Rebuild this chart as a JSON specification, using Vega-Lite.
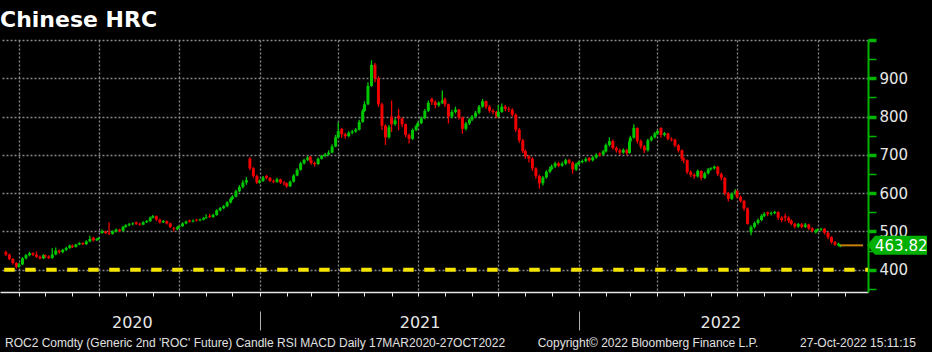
{
  "$schema": "https://vega.github.io/schema/vega-lite/v6.json",
  "width": 868,
  "height": 252,
  "autosize": {"type": "none"},
  "padding": {"top": 40, "left": 0, "right": 64, "bottom": 60},
  "background": "#000000",
  "title": {"text": "Chinese HRC", "anchor": "start", "frame": "group", "color": "#ffffff", "font": "DejaVu Sans", "fontSize": 22, "fontWeight": "bold", "offset": 6},
  "config": {"view": {"stroke": null}},
  "datasets": {
    "ohlc": [
      {"d":"2020-03-17","o":446,"h":450,"l":436,"c":440},
      {"d":"2020-03-21","o":440,"h":442,"l":425,"c":428},
      {"d":"2020-03-25","o":428,"h":431,"l":414,"c":418},
      {"d":"2020-03-29","o":418,"h":420,"l":403,"c":408},
      {"d":"2020-04-01","o":408,"h":418,"l":405,"c":414},
      {"d":"2020-04-05","o":414,"h":433,"l":412,"c":430},
      {"d":"2020-04-09","o":430,"h":441,"l":427,"c":438},
      {"d":"2020-04-13","o":438,"h":447,"l":435,"c":443},
      {"d":"2020-04-17","o":443,"h":446,"l":436,"c":439},
      {"d":"2020-04-21","o":439,"h":448,"l":431,"c":434},
      {"d":"2020-04-25","o":434,"h":437,"l":427,"c":430},
      {"d":"2020-04-29","o":430,"h":441,"l":428,"c":438},
      {"d":"2020-05-01","o":438,"h":440,"l":430,"c":435},
      {"d":"2020-05-05","o":435,"h":438,"l":428,"c":431},
      {"d":"2020-05-09","o":431,"h":456,"l":429,"c":440},
      {"d":"2020-05-13","o":440,"h":458,"l":438,"c":450},
      {"d":"2020-05-17","o":450,"h":452,"l":442,"c":446},
      {"d":"2020-05-21","o":446,"h":455,"l":443,"c":452},
      {"d":"2020-05-25","o":452,"h":460,"l":449,"c":457},
      {"d":"2020-05-29","o":457,"h":466,"l":455,"c":463},
      {"d":"2020-06-01","o":463,"h":466,"l":457,"c":460},
      {"d":"2020-06-05","o":460,"h":468,"l":458,"c":466},
      {"d":"2020-06-09","o":466,"h":472,"l":464,"c":470},
      {"d":"2020-06-13","o":470,"h":472,"l":464,"c":467},
      {"d":"2020-06-17","o":467,"h":477,"l":465,"c":474},
      {"d":"2020-06-21","o":474,"h":489,"l":472,"c":480},
      {"d":"2020-06-25","o":484,"h":486,"l":474,"c":477},
      {"d":"2020-06-29","o":477,"h":483,"l":475,"c":480},
      {"d":"2020-07-01","o":480,"h":485,"l":478,"c":483},
      {"d":"2020-07-05","o":496,"h":505,"l":494,"c":500},
      {"d":"2020-07-09","o":500,"h":502,"l":493,"c":496},
      {"d":"2020-07-13","o":496,"h":524,"l":491,"c":494},
      {"d":"2020-07-17","o":494,"h":503,"l":492,"c":500},
      {"d":"2020-07-21","o":500,"h":508,"l":498,"c":505},
      {"d":"2020-07-25","o":505,"h":507,"l":499,"c":502},
      {"d":"2020-07-29","o":502,"h":515,"l":500,"c":512},
      {"d":"2020-08-01","o":512,"h":519,"l":510,"c":516},
      {"d":"2020-08-05","o":516,"h":522,"l":514,"c":519},
      {"d":"2020-08-09","o":519,"h":524,"l":516,"c":521},
      {"d":"2020-08-13","o":524,"h":526,"l":517,"c":520},
      {"d":"2020-08-17","o":520,"h":523,"l":515,"c":518},
      {"d":"2020-08-21","o":518,"h":527,"l":516,"c":524},
      {"d":"2020-08-25","o":524,"h":530,"l":522,"c":527},
      {"d":"2020-08-29","o":527,"h":539,"l":525,"c":536},
      {"d":"2020-09-01","o":536,"h":543,"l":534,"c":540},
      {"d":"2020-09-05","o":540,"h":542,"l":528,"c":531},
      {"d":"2020-09-09","o":531,"h":533,"l":521,"c":524},
      {"d":"2020-09-13","o":524,"h":530,"l":522,"c":527},
      {"d":"2020-09-17","o":527,"h":529,"l":518,"c":521},
      {"d":"2020-09-21","o":521,"h":523,"l":509,"c":512},
      {"d":"2020-09-25","o":508,"h":512,"l":500,"c":506},
      {"d":"2020-09-29","o":506,"h":514,"l":503,"c":511},
      {"d":"2020-10-01","o":511,"h":517,"l":509,"c":514},
      {"d":"2020-10-05","o":514,"h":524,"l":512,"c":521},
      {"d":"2020-10-09","o":521,"h":529,"l":519,"c":526},
      {"d":"2020-10-13","o":529,"h":531,"l":523,"c":526},
      {"d":"2020-10-17","o":526,"h":531,"l":524,"c":528},
      {"d":"2020-10-21","o":531,"h":533,"l":526,"c":529},
      {"d":"2020-10-25","o":529,"h":534,"l":527,"c":531},
      {"d":"2020-10-29","o":531,"h":538,"l":529,"c":535},
      {"d":"2020-11-01","o":535,"h":545,"l":533,"c":537},
      {"d":"2020-11-05","o":540,"h":546,"l":535,"c":538},
      {"d":"2020-11-09","o":538,"h":546,"l":536,"c":543},
      {"d":"2020-11-13","o":543,"h":558,"l":541,"c":555},
      {"d":"2020-11-17","o":555,"h":564,"l":552,"c":561},
      {"d":"2020-11-21","o":561,"h":569,"l":558,"c":566},
      {"d":"2020-11-25","o":566,"h":579,"l":563,"c":576},
      {"d":"2020-11-29","o":576,"h":589,"l":573,"c":585},
      {"d":"2020-12-01","o":585,"h":595,"l":582,"c":591},
      {"d":"2020-12-05","o":591,"h":609,"l":589,"c":605},
      {"d":"2020-12-09","o":605,"h":621,"l":602,"c":616},
      {"d":"2020-12-13","o":616,"h":634,"l":612,"c":628},
      {"d":"2020-12-17","o":628,"h":642,"l":622,"c":634},
      {"d":"2020-12-21","o":690,"h":694,"l":660,"c":665},
      {"d":"2020-12-25","o":665,"h":668,"l":640,"c":645},
      {"d":"2020-12-29","o":645,"h":648,"l":624,"c":628},
      {"d":"2021-01-01","o":628,"h":636,"l":625,"c":632},
      {"d":"2021-01-05","o":632,"h":645,"l":630,"c":641},
      {"d":"2021-01-09","o":645,"h":648,"l":636,"c":640},
      {"d":"2021-01-13","o":640,"h":642,"l":629,"c":632},
      {"d":"2021-01-17","o":632,"h":636,"l":626,"c":630},
      {"d":"2021-01-21","o":630,"h":640,"l":627,"c":636},
      {"d":"2021-01-25","o":636,"h":638,"l":624,"c":628},
      {"d":"2021-01-29","o":628,"h":632,"l":621,"c":626},
      {"d":"2021-02-01","o":626,"h":628,"l":614,"c":618},
      {"d":"2021-02-05","o":618,"h":633,"l":616,"c":630},
      {"d":"2021-02-09","o":630,"h":650,"l":628,"c":646},
      {"d":"2021-02-13","o":646,"h":665,"l":644,"c":661},
      {"d":"2021-02-17","o":661,"h":682,"l":659,"c":678},
      {"d":"2021-02-21","o":678,"h":690,"l":675,"c":687},
      {"d":"2021-02-25","o":687,"h":697,"l":684,"c":693},
      {"d":"2021-02-28","o":695,"h":697,"l":682,"c":686},
      {"d":"2021-03-01","o":686,"h":688,"l":674,"c":679},
      {"d":"2021-03-05","o":679,"h":682,"l":670,"c":676},
      {"d":"2021-03-09","o":676,"h":693,"l":674,"c":690},
      {"d":"2021-03-13","o":690,"h":700,"l":688,"c":697},
      {"d":"2021-03-17","o":697,"h":705,"l":694,"c":701},
      {"d":"2021-03-21","o":701,"h":712,"l":698,"c":706},
      {"d":"2021-03-25","o":706,"h":728,"l":704,"c":722},
      {"d":"2021-03-29","o":722,"h":752,"l":720,"c":746},
      {"d":"2021-04-01","o":746,"h":785,"l":743,"c":762},
      {"d":"2021-04-05","o":768,"h":770,"l":745,"c":754},
      {"d":"2021-04-09","o":754,"h":758,"l":742,"c":749},
      {"d":"2021-04-13","o":749,"h":762,"l":746,"c":758},
      {"d":"2021-04-17","o":758,"h":765,"l":754,"c":761},
      {"d":"2021-04-21","o":761,"h":770,"l":758,"c":766},
      {"d":"2021-04-25","o":766,"h":792,"l":764,"c":786},
      {"d":"2021-04-29","o":786,"h":820,"l":784,"c":815},
      {"d":"2021-05-01","o":815,"h":840,"l":812,"c":832},
      {"d":"2021-05-05","o":832,"h":890,"l":830,"c":880},
      {"d":"2021-05-09","o":880,"h":947,"l":878,"c":935},
      {"d":"2021-05-13","o":935,"h":940,"l":890,"c":900},
      {"d":"2021-05-17","o":900,"h":905,"l":825,"c":832},
      {"d":"2021-05-21","o":832,"h":836,"l":765,"c":776},
      {"d":"2021-05-25","o":776,"h":780,"l":726,"c":746},
      {"d":"2021-05-29","o":746,"h":778,"l":742,"c":772},
      {"d":"2021-06-01","o":800,"h":842,"l":760,"c":780},
      {"d":"2021-06-05","o":780,"h":796,"l":776,"c":790},
      {"d":"2021-06-09","o":802,"h":820,"l":764,"c":795},
      {"d":"2021-06-13","o":795,"h":798,"l":772,"c":780},
      {"d":"2021-06-17","o":780,"h":782,"l":746,"c":752},
      {"d":"2021-06-21","o":752,"h":756,"l":730,"c":742},
      {"d":"2021-06-25","o":742,"h":769,"l":739,"c":765},
      {"d":"2021-06-29","o":765,"h":779,"l":762,"c":775},
      {"d":"2021-07-01","o":775,"h":787,"l":772,"c":783},
      {"d":"2021-07-05","o":783,"h":800,"l":780,"c":796},
      {"d":"2021-07-09","o":796,"h":820,"l":793,"c":815},
      {"d":"2021-07-13","o":815,"h":842,"l":812,"c":836},
      {"d":"2021-07-17","o":846,"h":850,"l":830,"c":838},
      {"d":"2021-07-21","o":838,"h":842,"l":822,"c":830},
      {"d":"2021-07-25","o":830,"h":840,"l":826,"c":836},
      {"d":"2021-07-29","o":836,"h":868,"l":833,"c":842},
      {"d":"2021-08-01","o":845,"h":850,"l":825,"c":832},
      {"d":"2021-08-05","o":832,"h":834,"l":782,"c":800},
      {"d":"2021-08-09","o":800,"h":818,"l":796,"c":812},
      {"d":"2021-08-13","o":812,"h":826,"l":808,"c":818},
      {"d":"2021-08-17","o":818,"h":820,"l":792,"c":798},
      {"d":"2021-08-21","o":798,"h":800,"l":755,"c":768},
      {"d":"2021-08-25","o":768,"h":786,"l":764,"c":782},
      {"d":"2021-08-29","o":782,"h":796,"l":778,"c":792},
      {"d":"2021-09-01","o":792,"h":804,"l":788,"c":800},
      {"d":"2021-09-05","o":800,"h":815,"l":797,"c":810},
      {"d":"2021-09-09","o":810,"h":830,"l":806,"c":826},
      {"d":"2021-09-13","o":826,"h":846,"l":823,"c":840},
      {"d":"2021-09-17","o":840,"h":842,"l":820,"c":826},
      {"d":"2021-09-21","o":826,"h":830,"l":810,"c":815},
      {"d":"2021-09-25","o":815,"h":820,"l":806,"c":812},
      {"d":"2021-09-29","o":812,"h":815,"l":796,"c":800},
      {"d":"2021-10-01","o":800,"h":830,"l":798,"c":812},
      {"d":"2021-10-05","o":812,"h":834,"l":810,"c":826},
      {"d":"2021-10-09","o":826,"h":830,"l":814,"c":820},
      {"d":"2021-10-13","o":820,"h":826,"l":812,"c":818},
      {"d":"2021-10-17","o":818,"h":822,"l":800,"c":805},
      {"d":"2021-10-21","o":805,"h":808,"l":760,"c":766},
      {"d":"2021-10-25","o":766,"h":770,"l":732,"c":738},
      {"d":"2021-10-29","o":738,"h":742,"l":705,"c":710},
      {"d":"2021-11-01","o":710,"h":714,"l":690,"c":696},
      {"d":"2021-11-05","o":696,"h":700,"l":680,"c":690},
      {"d":"2021-11-09","o":690,"h":694,"l":658,"c":665},
      {"d":"2021-11-13","o":665,"h":668,"l":638,"c":645},
      {"d":"2021-11-17","o":645,"h":648,"l":612,"c":626},
      {"d":"2021-11-21","o":626,"h":645,"l":620,"c":641},
      {"d":"2021-11-25","o":641,"h":660,"l":638,"c":656},
      {"d":"2021-11-29","o":656,"h":670,"l":652,"c":663},
      {"d":"2021-12-01","o":663,"h":675,"l":660,"c":670},
      {"d":"2021-12-05","o":670,"h":682,"l":666,"c":678},
      {"d":"2021-12-09","o":678,"h":682,"l":668,"c":672},
      {"d":"2021-12-13","o":672,"h":682,"l":669,"c":677},
      {"d":"2021-12-17","o":677,"h":690,"l":674,"c":686},
      {"d":"2021-12-21","o":686,"h":690,"l":676,"c":680},
      {"d":"2021-12-25","o":680,"h":683,"l":651,"c":662},
      {"d":"2021-12-29","o":662,"h":680,"l":658,"c":676},
      {"d":"2022-01-01","o":676,"h":685,"l":673,"c":681},
      {"d":"2022-01-05","o":681,"h":688,"l":678,"c":684},
      {"d":"2022-01-09","o":684,"h":693,"l":681,"c":689},
      {"d":"2022-01-13","o":692,"h":694,"l":682,"c":686},
      {"d":"2022-01-17","o":686,"h":697,"l":683,"c":693},
      {"d":"2022-01-21","o":693,"h":704,"l":690,"c":700},
      {"d":"2022-01-25","o":704,"h":706,"l":696,"c":701},
      {"d":"2022-01-29","o":701,"h":713,"l":698,"c":709},
      {"d":"2022-02-01","o":709,"h":730,"l":706,"c":726},
      {"d":"2022-02-05","o":726,"h":746,"l":722,"c":736},
      {"d":"2022-02-09","o":736,"h":740,"l":714,"c":718},
      {"d":"2022-02-13","o":718,"h":722,"l":706,"c":712},
      {"d":"2022-02-17","o":712,"h":716,"l":700,"c":706},
      {"d":"2022-02-21","o":706,"h":717,"l":703,"c":713},
      {"d":"2022-02-25","o":713,"h":716,"l":699,"c":705},
      {"d":"2022-02-28","o":705,"h":740,"l":703,"c":735},
      {"d":"2022-03-01","o":735,"h":750,"l":732,"c":745},
      {"d":"2022-03-05","o":745,"h":780,"l":742,"c":770},
      {"d":"2022-03-09","o":770,"h":772,"l":730,"c":736},
      {"d":"2022-03-13","o":736,"h":740,"l":716,"c":722},
      {"d":"2022-03-17","o":722,"h":726,"l":705,"c":712},
      {"d":"2022-03-21","o":712,"h":742,"l":709,"c":738},
      {"d":"2022-03-25","o":738,"h":750,"l":735,"c":746},
      {"d":"2022-03-29","o":746,"h":760,"l":743,"c":756},
      {"d":"2022-04-01","o":756,"h":766,"l":752,"c":762},
      {"d":"2022-04-05","o":770,"h":772,"l":745,"c":752},
      {"d":"2022-04-09","o":752,"h":760,"l":748,"c":756},
      {"d":"2022-04-13","o":756,"h":758,"l":738,"c":742},
      {"d":"2022-04-17","o":742,"h":746,"l":735,"c":740},
      {"d":"2022-04-21","o":740,"h":742,"l":720,"c":725},
      {"d":"2022-04-25","o":725,"h":728,"l":706,"c":712},
      {"d":"2022-04-29","o":712,"h":715,"l":684,"c":690},
      {"d":"2022-05-01","o":690,"h":694,"l":678,"c":686},
      {"d":"2022-05-05","o":686,"h":688,"l":650,"c":655},
      {"d":"2022-05-09","o":655,"h":660,"l":642,"c":648},
      {"d":"2022-05-13","o":648,"h":652,"l":638,"c":644},
      {"d":"2022-05-17","o":644,"h":662,"l":641,"c":658},
      {"d":"2022-05-21","o":658,"h":660,"l":634,"c":640},
      {"d":"2022-05-25","o":640,"h":656,"l":637,"c":652},
      {"d":"2022-05-29","o":652,"h":666,"l":649,"c":662},
      {"d":"2022-06-01","o":662,"h":668,"l":659,"c":665},
      {"d":"2022-06-05","o":665,"h":672,"l":662,"c":669},
      {"d":"2022-06-09","o":669,"h":671,"l":645,"c":650},
      {"d":"2022-06-13","o":650,"h":654,"l":634,"c":640},
      {"d":"2022-06-17","o":640,"h":642,"l":594,"c":600},
      {"d":"2022-06-21","o":600,"h":603,"l":578,"c":585},
      {"d":"2022-06-25","o":585,"h":602,"l":582,"c":598},
      {"d":"2022-06-29","o":598,"h":610,"l":595,"c":606},
      {"d":"2022-07-01","o":606,"h":608,"l":586,"c":590},
      {"d":"2022-07-05","o":590,"h":594,"l":575,"c":580},
      {"d":"2022-07-09","o":580,"h":583,"l":554,"c":560},
      {"d":"2022-07-13","o":560,"h":563,"l":518,"c":520},
      {"d":"2022-07-17","o":498,"h":516,"l":490,"c":512},
      {"d":"2022-07-21","o":512,"h":526,"l":508,"c":522},
      {"d":"2022-07-25","o":522,"h":534,"l":518,"c":530},
      {"d":"2022-07-29","o":530,"h":545,"l":527,"c":541},
      {"d":"2022-08-01","o":541,"h":550,"l":538,"c":546},
      {"d":"2022-08-05","o":550,"h":552,"l":540,"c":546},
      {"d":"2022-08-09","o":546,"h":552,"l":542,"c":548},
      {"d":"2022-08-13","o":548,"h":554,"l":545,"c":551},
      {"d":"2022-08-17","o":551,"h":553,"l":530,"c":536},
      {"d":"2022-08-21","o":536,"h":540,"l":524,"c":530},
      {"d":"2022-08-25","o":540,"h":546,"l":526,"c":536},
      {"d":"2022-08-29","o":536,"h":540,"l":522,"c":528},
      {"d":"2022-09-01","o":528,"h":531,"l":516,"c":520},
      {"d":"2022-09-05","o":520,"h":523,"l":508,"c":513},
      {"d":"2022-09-09","o":513,"h":522,"l":510,"c":519},
      {"d":"2022-09-13","o":519,"h":522,"l":508,"c":512},
      {"d":"2022-09-17","o":512,"h":522,"l":509,"c":518},
      {"d":"2022-09-21","o":518,"h":520,"l":504,"c":508},
      {"d":"2022-09-25","o":508,"h":511,"l":498,"c":502},
      {"d":"2022-09-29","o":498,"h":506,"l":495,"c":503},
      {"d":"2022-10-01","o":503,"h":508,"l":500,"c":505},
      {"d":"2022-10-05","o":505,"h":510,"l":501,"c":507},
      {"d":"2022-10-09","o":507,"h":509,"l":492,"c":497},
      {"d":"2022-10-13","o":497,"h":499,"l":480,"c":485},
      {"d":"2022-10-17","o":485,"h":488,"l":468,"c":472},
      {"d":"2022-10-21","o":472,"h":475,"l":462,"c":466},
      {"d":"2022-10-25","o":464,"h":471,"l":461,"c":468},
      {"d":"2022-10-27","o":461,"h":467,"l":459,"c":463.82}
    ]
  },
  "layer": [
    {
      "data": {"values": [{"v": 400}]},
      "mark": {"type": "rule", "color": "#f5e400", "strokeWidth": 4, "strokeDash": [10.5, 10.5], "strokeDashOffset": 7.7},
      "encoding": {
        "y": {
          "field": "v", "type": "quantitative",
          "scale": {"domain": [342, 1000], "nice": false, "zero": false},
          "axis": {
            "orient": "right", "title": null,
            "values": [350, 400, 450, 500, 550, 600, 650, 700, 750, 800, 850, 900, 950, 1000],
            "domainColor": "#00b400", "domainWidth": 2,
            "tickColor": "#00b400", "tickSize": 8,
            "tickWidth": {"condition": {"test": "datum.value % 100 === 0", "value": 3.5}, "value": 1.5},
            "labelExpr": "datum.value % 100 === 0 && datum.value < 1000 ? datum.label : ''",
            "labelFontSize": {"condition": {"test": "datum.value % 100 === 0 && datum.value < 1000", "value": 15}, "value": 0},
            "labelColor": "#e8e8e8", "labelFont": "DejaVu Sans", "labelPadding": 3,
            "labelOverlap": false, "labelFlush": false,
            "grid": true, "gridColor": "#8a8a8a", "gridDash": [2, 2], "gridWidth": 1.3,
            "gridOpacity": {"condition": {"test": "datum.value % 100 === 0", "value": 1}, "value": 0}
          }
        }
      }
    },
    {
      "data": {"name": "ohlc"},
      "mark": {"type": "rule", "strokeWidth": 1.3},
      "encoding": {
        "x": {
          "field": "d", "type": "temporal",
          "scale": {"domain": [{"year": 2020, "month": 3, "date": 16}, {"year": 2022, "month": 11, "date": 22}]},
          "axis": {
            "orient": "bottom", "title": null, "labels": false,
            "tickCount": {"interval": "month", "step": 1},
            "domainColor": "#e6e6e6", "domainWidth": 1.5,
            "tickColor": "#e6e6e6", "tickSize": 4, "tickWidth": 1,
            "grid": true, "gridColor": "#8a8a8a", "gridDash": [2, 2], "gridWidth": 1.3,
            "gridOpacity": {"condition": {"test": "month(datum.value) % 3 === 0", "value": 1}, "value": 0}
          }
        },
        "y": {"field": "l", "type": "quantitative", "axis": null},
        "y2": {"field": "h"},
        "color": {"condition": {"test": "datum.c >= datum.o", "value": "#00c800"}, "value": "#f00000"}
      }
    },
    {
      "data": {"name": "ohlc"},
      "mark": {"type": "bar", "size": 3},
      "encoding": {
        "x": {"field": "d", "type": "temporal", "axis": null},
        "y": {"field": "o", "type": "quantitative", "axis": null},
        "y2": {"field": "c"},
        "color": {"condition": {"test": "datum.c >= datum.o", "value": "#00c800"}, "value": "#f00000"}
      }
    },
    {
      "data": {"values": [{"v": 463.82}]},
      "mark": {"type": "rule", "color": "#c8820a", "strokeWidth": 2},
      "encoding": {
        "x": {
          "datum": {"year": 2022, "month": 10, "date": 27}, "type": "temporal",
          "axis": {
            "orient": "bottom", "title": null, "offset": 19,
            "values": [{"year": 2020, "month": 8, "date": 8}, {"year": 2021, "month": 1, "date": 1}, {"year": 2021, "month": 7, "date": 3}, {"year": 2022, "month": 1, "date": 1}, {"year": 2022, "month": 6, "date": 12}],
            "domain": false, "grid": false,
            "tickColor": "#b0b0b0", "tickSize": 19, "tickWidth": 1,
            "tickOpacity": {"condition": {"test": "month(datum.value) === 0 && date(datum.value) === 1", "value": 1}, "value": 0},
            "labelExpr": "month(datum.value) === 0 && date(datum.value) === 1 ? '' : timeFormat(datum.value, '%Y')",
            "labelColor": "#e8e8e8", "labelFont": "DejaVu Sans", "labelFontSize": 16, "labelPadding": -16,
            "labelOverlap": false, "labelFlush": false
          }
        },
        "x2": {"datum": {"year": 2022, "month": 11, "date": 22}},
        "y": {"field": "v", "type": "quantitative", "axis": null}
      }
    },
    {
      "data": {"values": [{"v": 463.82}]},
      "mark": {"type": "point", "filled": true, "opacity": 1, "color": "#00b000", "size": 4, "shape": "M4,0L12,-9.5L64,-9.5L64,9.5L12,9.5Z"},
      "encoding": {
        "x": {"datum": {"year": 2022, "month": 11, "date": 22}, "type": "temporal", "axis": null},
        "y": {"field": "v", "type": "quantitative", "axis": null}
      }
    },
    {
      "data": {"values": [{"v": 463.82}]},
      "mark": {"type": "text", "color": "#ffffff", "font": "DejaVu Sans", "fontSize": 15, "align": "left", "baseline": "middle", "dx": 12, "dy": 0.5},
      "encoding": {
        "x": {"datum": {"year": 2022, "month": 11, "date": 22}, "type": "temporal", "axis": null},
        "y": {"field": "v", "type": "quantitative", "axis": null},
        "text": {"field": "v", "type": "quantitative", "format": ".2f"}
      }
    },
    {
      "data": {"values": [{"t": "ROC2 Comdty (Generic 2nd 'ROC' Future) Candle RSI MACD  Daily 17MAR2020-27OCT2022"}]},
      "mark": {"type": "text", "color": "#e0e0e0", "font": "Liberation Sans", "fontSize": 12, "align": "left", "baseline": "middle"},
      "encoding": {
        "x": {"datum": {"year": 2020, "month": 3, "date": 16}, "type": "temporal", "axis": null},
        "y": {"datum": 210, "type": "quantitative", "axis": null},
        "text": {"field": "t"}
      }
    },
    {
      "data": {"values": [{"t": "Copyright© 2022 Bloomberg Finance L.P."}]},
      "mark": {"type": "text", "color": "#e0e0e0", "font": "Liberation Sans", "fontSize": 12, "align": "left", "baseline": "middle"},
      "encoding": {
        "x": {"datum": {"year": 2021, "month": 11, "date": 15}, "type": "temporal", "axis": null},
        "y": {"datum": 210, "type": "quantitative", "axis": null},
        "text": {"field": "t"}
      }
    },
    {
      "data": {"values": [{"t": "27-Oct-2022 15:11:15"}]},
      "mark": {"type": "text", "color": "#e0e0e0", "font": "Liberation Sans", "fontSize": 12, "align": "left", "baseline": "middle"},
      "encoding": {
        "x": {"datum": {"year": 2022, "month": 9, "date": 11}, "type": "temporal", "axis": null},
        "y": {"datum": 210, "type": "quantitative", "axis": null},
        "text": {"field": "t"}
      }
    }
  ],
  "resolve": {"axis": {"x": "independent", "y": "independent"}}
}
